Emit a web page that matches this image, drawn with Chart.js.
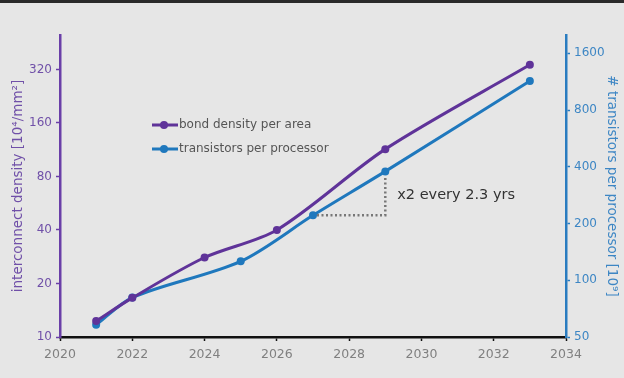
<!DOCTYPE html>
<html>
<head>
<meta charset="utf-8">
<script src="https://cdn.jsdelivr.net/npm/chart.js@4.4.1/dist/chart.umd.min.js"></script>
<style>
  html, body { margin: 0; padding: 0; background: #e6e6e6; }
  #wrap { width: 624px; height: 378px; position: relative; border-top: 3px solid #2a2a2a; box-sizing: border-box; }
</style>
</head>
<body>
<div id="wrap"><canvas id="chart" width="624" height="375"></canvas></div>
<script>
const years = [2021, 2022, 2024, 2026, 2029, 2033];
const bondDensity = [12.3, 16.6, 28, 40, 114, 340];
const transistorYears = [2021, 2022, 2025, 2027, 2029, 2033];
const transistors = [58, 81, 126, 221, 378, 1140];
const leftTicks = [10, 20, 40, 80, 160, 320];
const rightTicks = [50, 100, 200, 400, 800, 1600];
const xTicks = [2020, 2022, 2024, 2026, 2028, 2030, 2032, 2034];

const purple = "#5f3399";
const blue = "#1f78bd";
const font = "'DejaVu Sans', Verdana, sans-serif";

// legend drawn inside plot area
const innerLegend = {
    id: "innerLegend",
    afterDraw(chart) {
        const ctx = chart.ctx;
        ctx.save();
        chart.data.datasets.forEach((ds, i) => {
            const y = 122 + i * 24;
            ctx.strokeStyle = ds.borderColor;
            ctx.lineWidth = 3;
            ctx.beginPath();
            ctx.moveTo(152, y);
            ctx.lineTo(178, y);
            ctx.stroke();
            ctx.fillStyle = ds.borderColor;
            ctx.beginPath();
            ctx.arc(164, y, 4, 0, Math.PI * 2);
            ctx.fill();
            ctx.fillStyle = "#555";
            ctx.font = "12px " + font;
            ctx.textBaseline = "middle";
            ctx.fillText(ds.label, 179, y);
        });
        ctx.restore();
    }
};

// doubling-time annotation between 2027 and 2029 on the transistor line
const doubling = {
    id: "doubling",
    afterDatasetsDraw(chart) {
        const x = chart.scales.x, y1 = chart.scales.y1, ctx = chart.ctx;
        const i0 = transistorYears.indexOf(2027), i1 = transistorYears.indexOf(2029);
        const xa = x.getPixelForValue(transistorYears[i0]);
        const xb = x.getPixelForValue(transistorYears[i1]);
        const ya = y1.getPixelForValue(transistors[i0]);
        const yb = y1.getPixelForValue(transistors[i1]);
        ctx.save();
        ctx.strokeStyle = "#777";
        ctx.lineWidth = 2.5;
        ctx.setLineDash([2, 2.5]);
        ctx.beginPath();
        ctx.moveTo(xa + 4, ya);
        ctx.lineTo(xb, ya);
        ctx.lineTo(xb, yb + 4);
        ctx.stroke();
        ctx.setLineDash([]);
        ctx.fillStyle = "#333";
        ctx.font = "14.5px " + font;
        ctx.textBaseline = "middle";
        ctx.fillText("x2 every 2.3 yrs", xb + 12, (ya + yb) / 2 + 2);
        ctx.restore();
    }
};

function logAxis(ticks, min, max, color, labelColor, title, position, width, titlePad) {
    return {
        type: "logarithmic",
        position: position,
        min: min,
        max: max,
        afterBuildTicks: s => { s.ticks = ticks.map(v => ({ value: v })); },
        afterFit: s => { s.width = width; },
        border: { color: color, width: 2.5 },
        grid: { drawOnChartArea: false, drawTicks: true, tickLength: 4, tickColor: color, tickWidth: 1.5 },
        ticks: {
            color: labelColor,
            padding: 4,
            font: { family: font, size: 12 },
            callback: v => String(v)
        },
        title: {
            display: true,
            text: title,
            color: labelColor,
            font: { family: font, size: 13.5 },
            padding: { top: titlePad, bottom: 0 }
        }
    };
}

new Chart(document.getElementById("chart"), {
    type: "line",
    data: {
        datasets: [
            {
                label: "bond density per area",
                data: years.map((yr, i) => ({ x: yr, y: bondDensity[i] })),
                borderColor: purple,
                backgroundColor: purple,
                borderWidth: 3,
                pointRadius: 4,
                pointBorderWidth: 0,
                tension: 0.3,
                yAxisID: "y"
            },
            {
                label: "transistors per processor",
                data: transistorYears.map((yr, i) => ({ x: yr, y: transistors[i] })),
                borderColor: blue,
                backgroundColor: blue,
                borderWidth: 3,
                pointRadius: 4,
                pointBorderWidth: 0,
                tension: 0.3,
                yAxisID: "y1"
            }
        ]
    },
    plugins: [doubling, innerLegend],
    options: {
        responsive: false,
        animation: false,
        layout: { padding: { top: 32, left: 0, right: 0, bottom: 0 } },
        plugins: { legend: { display: false }, tooltip: { enabled: false } },
        scales: {
            x: {
                type: "linear",
                min: 2020,
                max: 2034,
                afterBuildTicks: s => { s.ticks = xTicks.map(v => ({ value: v })); },
                afterFit: s => { s.height = 41; },
                border: { color: "#111", width: 2.5 },
                grid: { drawOnChartArea: false, drawTicks: true, tickLength: 4, tickColor: "#111", tickWidth: 1.5 },
                ticks: {
                    color: "#808080",
                    padding: 6,
                    maxRotation: 0,
                    font: { family: font, size: 12.5 },
                    callback: v => String(v)
                }
            },
            y: logAxis(leftTicks, 10, 500, "#6a3fa8", "#7050a8",
                "interconnect density [10\u2074/mm\u00b2]", "left", 60, 10),
            y1: logAxis(rightTicks, 50, 2000, "#2a7cc0", "#3d86c4",
                "# transistors per processor [10\u2079]", "right", 58, 4)
        }
    }
});
</script>
</body>
</html>
